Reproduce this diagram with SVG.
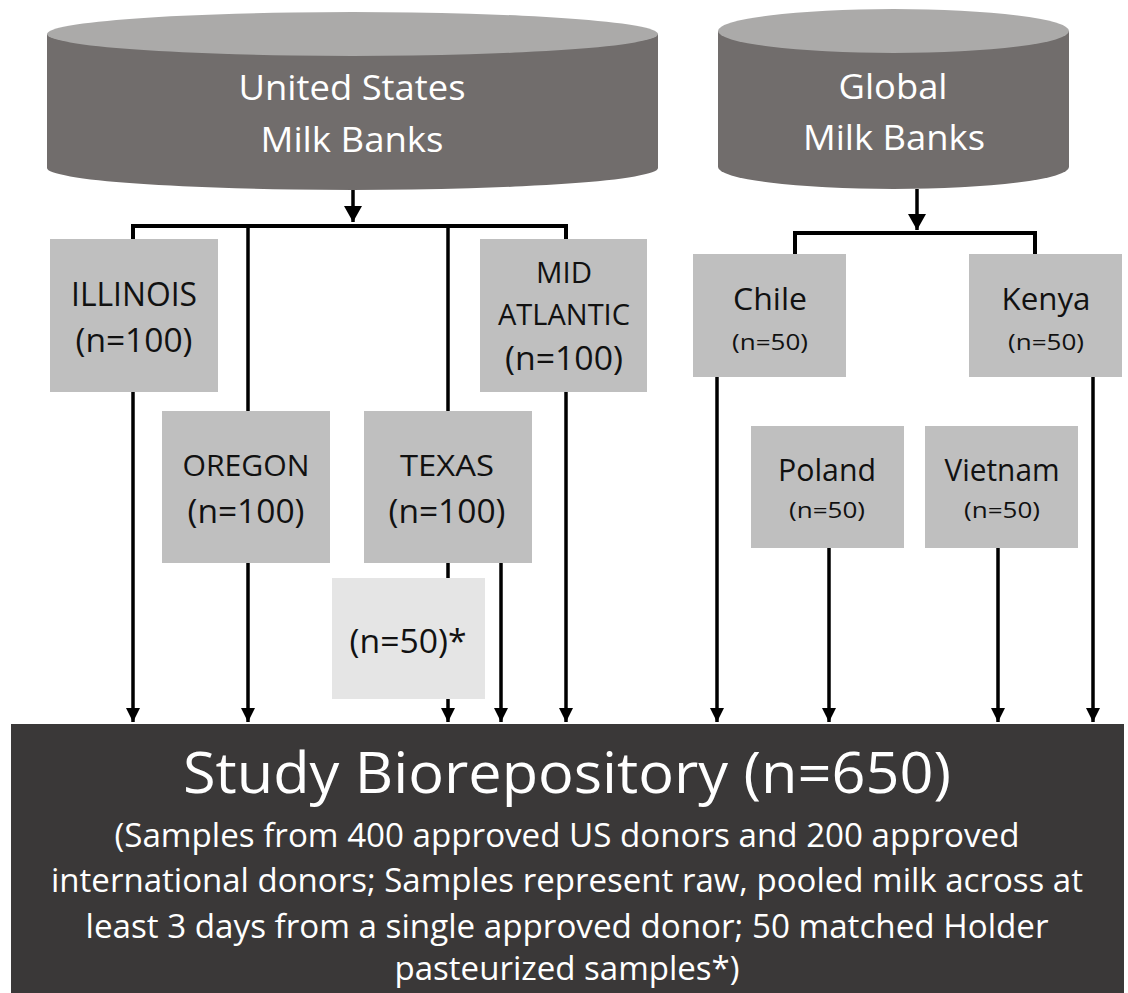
<svg xmlns="http://www.w3.org/2000/svg" width="1128" height="993" viewBox="0 0 1128 993">
<style>
.t{font-family:"Open Sans","Noto Sans",sans-serif;text-anchor:middle}
.w{fill:#ffffff}
.k{fill:#111111}
.box{fill:#bfbfbf}
.cbody{fill:#716d6c}
.ctop{fill:#abaaa9}
.ln{stroke:#000;stroke-width:3.5;fill:none}
.bar{stroke:#000;stroke-width:4;fill:none}
</style>
<defs>
<marker id="ah" markerUnits="userSpaceOnUse" markerWidth="14" markerHeight="16" refX="14" refY="7" orient="auto" viewBox="0 0 14 14">
<path d="M0,0 L14,7 L0,14 Z" fill="#000"/>
</marker>
<marker id="ahb" markerUnits="userSpaceOnUse" markerWidth="16" markerHeight="18" refX="16" refY="9" orient="auto" viewBox="0 0 16 18">
<path d="M0,0 L16,9 L0,18 Z" fill="#000"/>
</marker>
</defs>

<g id="connectors">
<line class="ln" x1="353" y1="190" x2="353" y2="222" marker-end="url(#ahb)"/>
<path class="bar" d="M133,241 V226 H566 V241"/>
<line class="ln" x1="133" y1="226" x2="133" y2="722" marker-end="url(#ah)"/>
<line class="ln" x1="248" y1="226" x2="248" y2="722" marker-end="url(#ah)"/>
<line class="ln" x1="448" y1="226" x2="448" y2="722" marker-end="url(#ah)"/>
<line class="ln" x1="566" y1="226" x2="566" y2="722" marker-end="url(#ah)"/>
<line class="ln" x1="501" y1="563" x2="501" y2="722" marker-end="url(#ah)"/>
<line class="ln" x1="917" y1="189" x2="917" y2="230" marker-end="url(#ahb)"/>
<path class="bar" d="M795,256 V233 H1035 V256"/>
<line class="ln" x1="717" y1="377" x2="717" y2="722" marker-end="url(#ah)"/>
<line class="ln" x1="829" y1="548" x2="829" y2="722" marker-end="url(#ah)"/>
<line class="ln" x1="998" y1="548" x2="998" y2="722" marker-end="url(#ah)"/>
<line class="ln" x1="1093" y1="377" x2="1093" y2="722" marker-end="url(#ah)"/>
</g>

<g id="us-banks">
<path class="cbody" d="M47,34 V168 A305.5,22 0 0 0 658,168 V34 Z"/>
<ellipse class="ctop" cx="352.5" cy="34" rx="305.5" ry="22"/>
<text class="t w" x="352" y="100" font-size="34" textLength="227" lengthAdjust="spacingAndGlyphs">United States</text>
<text class="t w" x="352" y="152" font-size="34" textLength="183" lengthAdjust="spacingAndGlyphs">Milk Banks</text>
</g>

<g id="global-banks">
<path class="cbody" d="M718,31 V167 A175.5,22 0 0 0 1069,167 V31 Z"/>
<ellipse class="ctop" cx="893.5" cy="31" rx="175.5" ry="22"/>
<text class="t w" x="893" y="99" font-size="34" textLength="109" lengthAdjust="spacingAndGlyphs">Global</text>
<text class="t w" x="894" y="150" font-size="34" textLength="182" lengthAdjust="spacingAndGlyphs">Milk Banks</text>
</g>

<g id="illinois">
<rect class="box" x="50" y="239" width="168" height="153"/>
<text class="t k" x="134" y="306" font-size="32" textLength="126" lengthAdjust="spacingAndGlyphs">ILLINOIS</text>
<text class="t k" x="134" y="352" font-size="32" textLength="117" lengthAdjust="spacingAndGlyphs">(n=100)</text>
</g>

<g id="mid-atlantic">
<rect class="box" x="480" y="239" width="167" height="153"/>
<text class="t k" x="564" y="283" font-size="29" textLength="56" lengthAdjust="spacingAndGlyphs">MID</text>
<text class="t k" x="564" y="325" font-size="29" textLength="132" lengthAdjust="spacingAndGlyphs">ATLANTIC</text>
<text class="t k" x="564" y="370" font-size="32" textLength="118" lengthAdjust="spacingAndGlyphs">(n=100)</text>
</g>

<g id="oregon">
<rect class="box" x="162" y="411" width="168" height="152"/>
<text class="t k" x="246" y="476" font-size="29" textLength="127" lengthAdjust="spacingAndGlyphs">OREGON</text>
<text class="t k" x="246" y="523" font-size="32" textLength="117" lengthAdjust="spacingAndGlyphs">(n=100)</text>
</g>

<g id="texas">
<rect class="box" x="364" y="411" width="168" height="152"/>
<text class="t k" x="447" y="476" font-size="29" textLength="94" lengthAdjust="spacingAndGlyphs">TEXAS</text>
<text class="t k" x="447" y="523" font-size="32" textLength="117" lengthAdjust="spacingAndGlyphs">(n=100)</text>
</g>

<g id="texas-pasteurized">
<rect x="332" y="578" width="153" height="121" fill="#e5e5e5"/>
<text class="t k" x="408" y="653" font-size="32" textLength="117" lengthAdjust="spacingAndGlyphs">(n=50)*</text>
</g>

<g id="chile">
<rect class="box" x="693" y="254" width="153" height="123"/>
<text class="t k" x="770" y="310" font-size="31" textLength="74" lengthAdjust="spacingAndGlyphs">Chile</text>
<text class="t k" x="770" y="350" font-size="21" textLength="76" lengthAdjust="spacingAndGlyphs">(n=50)</text>
</g>

<g id="kenya">
<rect class="box" x="969" y="254" width="153" height="123"/>
<text class="t k" x="1046" y="310" font-size="31" textLength="89" lengthAdjust="spacingAndGlyphs">Kenya</text>
<text class="t k" x="1046" y="350" font-size="21" textLength="76" lengthAdjust="spacingAndGlyphs">(n=50)</text>
</g>

<g id="poland">
<rect class="box" x="751" y="426" width="153" height="122"/>
<text class="t k" x="827" y="481" font-size="31" textLength="98" lengthAdjust="spacingAndGlyphs">Poland</text>
<text class="t k" x="827" y="518" font-size="21" textLength="76" lengthAdjust="spacingAndGlyphs">(n=50)</text>
</g>

<g id="vietnam">
<rect class="box" x="925" y="426" width="153" height="122"/>
<text class="t k" x="1002" y="481" font-size="31" textLength="115" lengthAdjust="spacingAndGlyphs">Vietnam</text>
<text class="t k" x="1002" y="518" font-size="21" textLength="76" lengthAdjust="spacingAndGlyphs">(n=50)</text>
</g>

<g id="biorepository">
<rect x="11" y="724" width="1113" height="269" fill="#3a3838"/>
<text class="t w" x="567" y="793" font-size="56" textLength="768" lengthAdjust="spacingAndGlyphs">Study Biorepository (n=650)</text>
<text class="t w" x="567" y="847" font-size="32" textLength="905" lengthAdjust="spacingAndGlyphs">(Samples from 400 approved US donors and 200 approved</text>
<text class="t w" x="567" y="892" font-size="32" textLength="1032" lengthAdjust="spacingAndGlyphs">international donors; Samples represent raw, pooled milk across at</text>
<text class="t w" x="567" y="938" font-size="32" textLength="963" lengthAdjust="spacingAndGlyphs">least 3 days from a single approved donor; 50 matched Holder</text>
<text class="t w" x="567" y="980" font-size="32" textLength="345" lengthAdjust="spacingAndGlyphs">pasteurized samples*)</text>
</g>
</svg>
